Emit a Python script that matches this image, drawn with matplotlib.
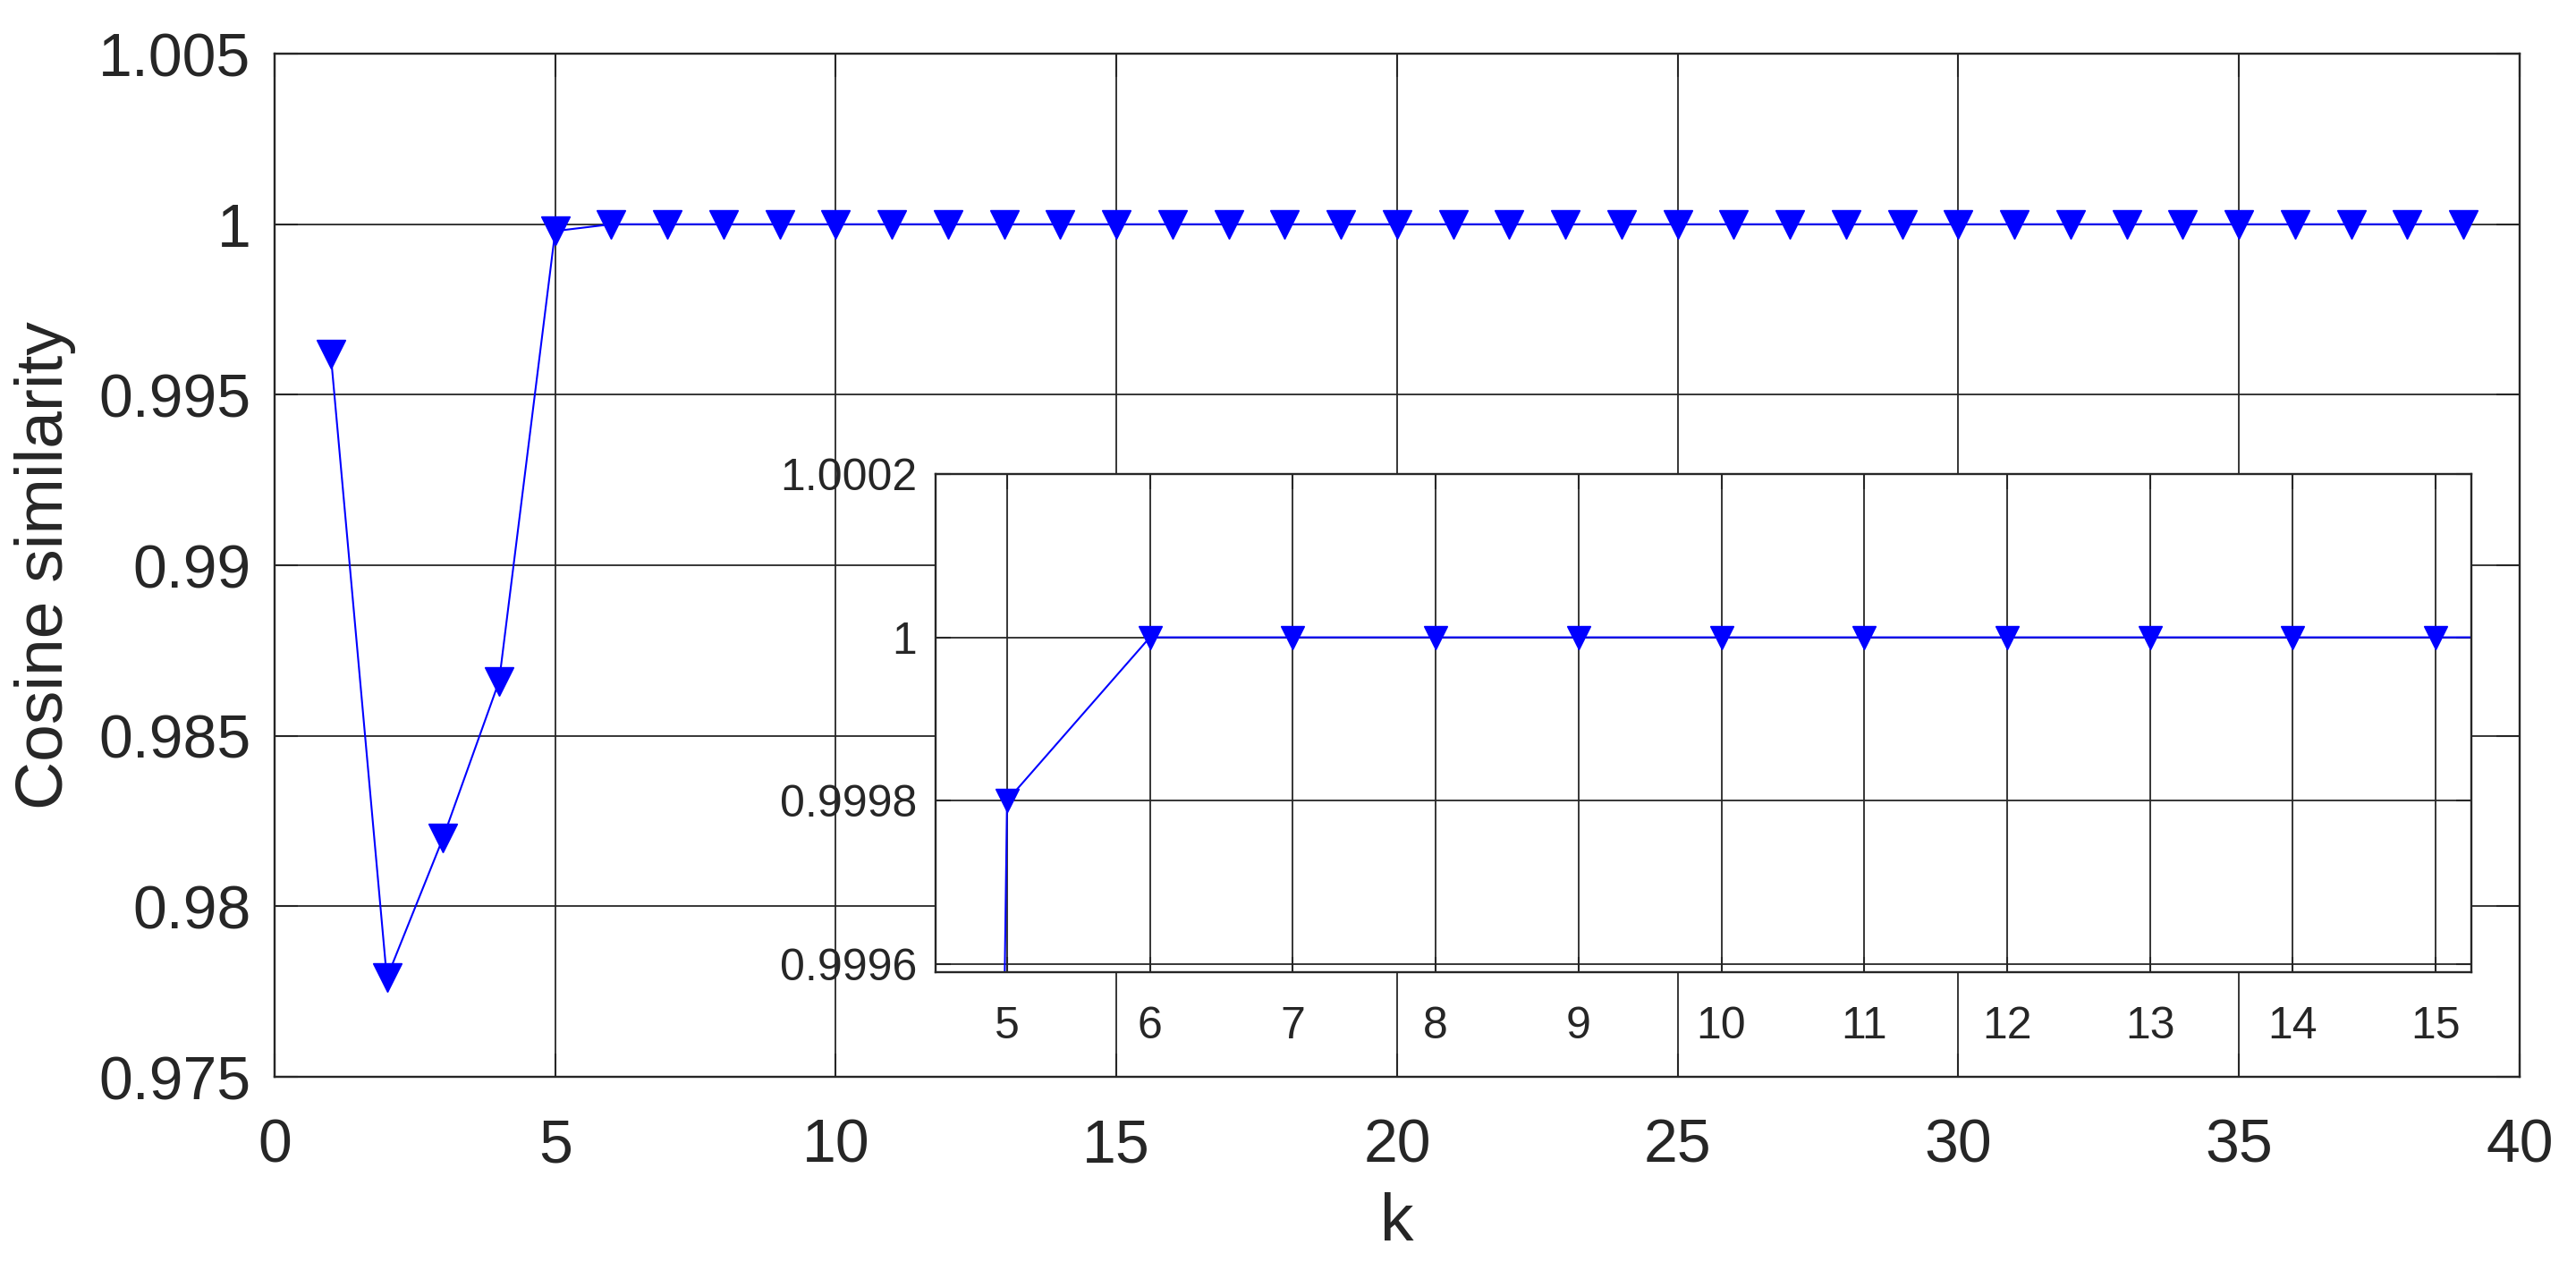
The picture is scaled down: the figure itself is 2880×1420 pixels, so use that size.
import matplotlib
matplotlib.use("Agg")
import matplotlib.pyplot as plt
from matplotlib.ticker import FormatStrFormatter, FuncFormatter

# data
k = list(range(1, 40))
cos_sim = [0.9962, 0.9779, 0.9820, 0.9866, 0.9998] + [1.0] * 34

main_xticks = [0, 5, 10, 15, 20, 25, 30, 35, 40]
main_yticks = [0.975, 0.980, 0.985, 0.990, 0.995, 1.000, 1.005]
inset_xticks = list(range(5, 16))
inset_yticks = [0.9996, 0.9998, 1.0, 1.0002]

INK = "#262626"
BLUE = "#0000ff"

plt.rcParams.update({
    "font.family": ["Liberation Sans", "DejaVu Sans"],
    "text.color": INK,
    "axes.edgecolor": INK,
    "axes.labelcolor": INK,
    "xtick.color": INK,
    "ytick.color": INK,
})


def g_fmt(v, pos=None):
    return f"{v:.6g}"


def style_axes(ax, tick_fs, tick_len, xpad, ypad):
    for s in ax.spines.values():
        s.set_linewidth(1.7)
    ax.tick_params(which="both", direction="in", top=True, right=True,
                   length=tick_len, width=1.5, labelsize=tick_fs)
    ax.tick_params(axis="x", pad=xpad)
    ax.tick_params(axis="y", pad=ypad)
    ax.grid(True, color=INK, linewidth=1.3, linestyle="-")
    ax.set_axisbelow(True)
    ax.xaxis.set_major_formatter(FuncFormatter(g_fmt))
    ax.yaxis.set_major_formatter(FuncFormatter(g_fmt))


fig = plt.figure(figsize=(28.8, 14.2), dpi=100)

ax = fig.add_axes([0.1066, 0.1521, 0.8715, 0.8056])
ax.plot(k, cos_sim, "-v", color=BLUE, linewidth=1.5,
        markersize=23, markerfacecolor=BLUE, markeredgecolor=BLUE)
ax.set_xlim(0, 40)
ax.set_ylim(0.975, 1.005)
ax.set_xticks(main_xticks)
ax.set_yticks(main_yticks)
style_axes(ax, 49, 19, 33, 19)
ax.set_xlabel("k", fontsize=54, labelpad=14)
ax.set_ylabel("Cosine similarity", fontsize=54, labelpad=18)

axin = fig.add_axes([0.3632, 0.2345, 0.5962, 0.3923])
axin.plot(k, cos_sim, "-v", color=BLUE, linewidth=1.5,
          markersize=19, markerfacecolor=BLUE, markeredgecolor=BLUE)
axin.set_xlim(4.5, 15.25)
axin.set_ylim(0.99959, 1.0002)
axin.set_xticks(inset_xticks)
axin.set_yticks(inset_yticks)
style_axes(axin, 36, 12, 27, 15)

fig.savefig("out.png", dpi=100, facecolor="white")
